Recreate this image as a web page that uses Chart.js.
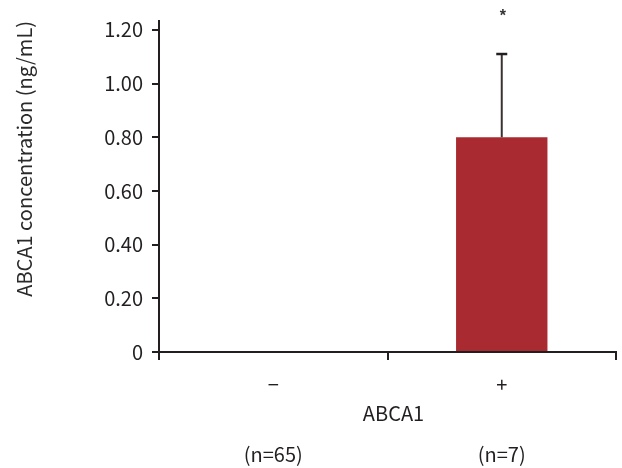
<!DOCTYPE html>
<html>
<head>
<meta charset="utf-8">
<script src="https://cdn.jsdelivr.net/npm/chart.js@4/dist/chart.umd.min.js"></script>
<style>
html,body{margin:0;padding:0;background:#fff;}
#wrap{width:622px;height:468px;position:relative;}
</style>
</head>
<body>
<div id="wrap"><canvas id="c" width="622" height="468"></canvas></div>
<script>
const categories = ["\u2212", "+"];
const sampleSizes = ["(n=65)", "(n=7)"];
const meanValues = [0, 0.80];
const errorValues = [0, 0.31];
const significance = ["", "*"];
const yTicks = [0, 0.20, 0.40, 0.60, 0.80, 1.00, 1.20];
const xTitle = "ABCA1";
const yTitle = "ABCA1 concentration (ng/mL)";

const FONT = "'Noto Sans CJK KR', 'Noto Sans', sans-serif";
const STAR_FONT = "'Liberation Sans', Arial, sans-serif";
const INK = "#231f20";

const errorBarPlugin = {
  id: 'errorBars',
  afterDatasetsDraw(chart) {
    const ctx = chart.ctx;
    const meta = chart.getDatasetMeta(0);
    const ys = chart.scales.y;
    ctx.save();
    meta.data.forEach((bar, i) => {
      const err = errorValues[i];
      const x = bar.x;
      if (err > 0) {
        const yTop = ys.getPixelForValue(meanValues[i] + err);
        const yBase = ys.getPixelForValue(meanValues[i]);
        ctx.strokeStyle = "#3a3231";
        ctx.lineWidth = 2;
        ctx.beginPath();
        ctx.moveTo(x, yBase);
        ctx.lineTo(x, yTop);
        ctx.stroke();
        ctx.strokeStyle = INK;
        ctx.lineWidth = 2.5;
        ctx.beginPath();
        ctx.moveTo(x - 5.5, yTop);
        ctx.lineTo(x + 5.5, yTop);
        ctx.stroke();
        if (significance[i]) {
          ctx.fillStyle = "#333";
          ctx.font = "bold 16px " + STAR_FONT;
          ctx.textAlign = "center";
          ctx.textBaseline = "middle";
          ctx.fillText(significance[i], x + 1, yTop - 37);
        }
      }
    });
    const xs = chart.scales.x;
    ctx.fillStyle = INK;
    ctx.font = "20px " + FONT;
    ctx.textAlign = "center";
    ctx.textBaseline = "middle";
    ctx.fillText(xTitle, (xs.left + xs.right) / 2 + 6, xs.top + 61);
    ctx.restore();
  }
};

new Chart(document.getElementById('c'), {
  type: 'bar',
  data: {
    labels: categories.map((c, i) => [c, "", sampleSizes[i]]),
    datasets: [{
      data: meanValues,
      backgroundColor: "#a92a30",
      borderWidth: 0,
      barPercentage: 0.4,
      categoryPercentage: 1.0
    }]
  },
  options: {
    responsive: false,
    animation: false,
    devicePixelRatio: 1,
    layout: { padding: { top: 20, right: 6, left: 0, bottom: 0 } },
    plugins: { legend: { display: false }, tooltip: { enabled: false } },
    scales: {
      x: {
        offset: true,
        grid: { display: true, drawOnChartArea: false, drawTicks: true, tickLength: 8, offset: true, color: INK, lineWidth: 2 },
        border: { display: true, color: INK, width: 2 },
        ticks: { color: INK, font: { family: FONT, size: 20, lineHeight: '35px' }, padding: 7, maxRotation: 0, autoSkip: false,
                 callback: function(v, i) { return [categories[i], "", sampleSizes[i]]; } },
        afterFit(scale) { scale.height = 116; }
      },
      y: {
        min: 0,
        max: 1.233,
        afterBuildTicks(scale) { scale.ticks = yTicks.map(v => ({ value: v })); },
        grid: { display: true, drawOnChartArea: false, drawTicks: true, tickLength: 7, color: INK, lineWidth: 2 },
        border: { display: true, color: INK, width: 2 },
        ticks: { color: INK, font: { family: FONT, size: 20 }, padding: 9,
                 callback: v => v === 0 ? "0" : v.toFixed(2) },
        title: { display: true, text: yTitle, align: 'end', color: "#2a2a2a", font: { family: FONT, size: 20 }, padding: { top: 12, bottom: 0 } },
        afterFit(scale) { scale.width = 159; }
      }
    }
  },
  plugins: [errorBarPlugin]
});
</script>
</body>
</html>
